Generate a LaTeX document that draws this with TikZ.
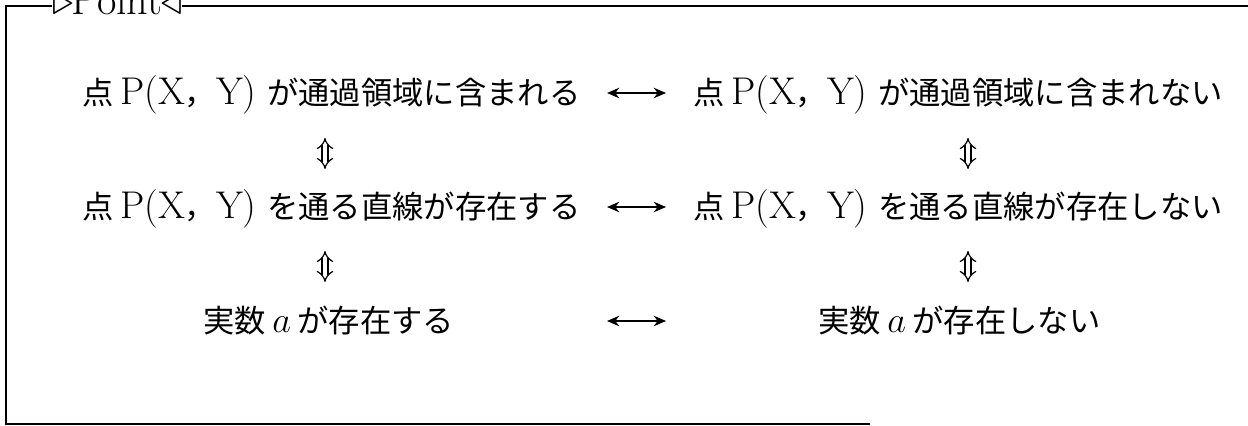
\documentclass[tikz,border=0pt]{standalone}
\usepackage{fontspec}
\newfontfamily\cjk[Scale=0.81]{Noto Sans CJK JP}
\usetikzlibrary{arrows.meta}
\newcommand{\J}[1]{{\cjk #1}}
\newcommand{\PXY}{\J{点}\,P(X\J{，}Y)\;}
\tikzset{
  txt/.style={anchor=base west, inner sep=0pt, font=\fontsize{22}{26}\selectfont},
  frameline/.style={line width=0.9pt},
  harrow/.style={line width=0.8pt, {Stealth[length=7pt,width=6pt]}-{Stealth[length=7pt,width=6pt]}},
  varrow/.style={double, double distance=2.6pt, line width=0.7pt, {Implies}-{Implies}}
}
\begin{document}
\begin{tikzpicture}[x=0.02cm,y=-0.02cm]
\useasboundingbox (0,0) rectangle (1248,426);
% title
\node[anchor=base, inner sep=0pt] (title) at (117,14) {\fontsize{24}{26}\selectfont$\triangleright$\kern-1pt Point\kern-1pt$\triangleleft$};
% frame
\draw[frameline] (title.west |- 0,6) -- (6,6) -- (6,424) -- (870,424);
\draw[frameline] (title.east |- 0,6) -- (1248,6);
% texts
\node[txt] (l1) at (82,104) {\PXY\J{が通過領域に含まれる}};
\node[txt] (r1) at (693,104) {\PXY\J{が通過領域に含まれない}};
\node[txt] (l2) at (82,218) {\PXY\J{を通る直線が存在する}};
\node[txt] (r2) at (693,218) {\PXY\J{を通る直線が存在しない}};
\node[txt] (l3) at (203,332) {\J{実数}\,$a$\,\J{が存在する}};
\node[txt] (r3) at (818,332) {\J{実数}\,$a$\,\J{が存在しない}};
% arrow end points
\coordinate (h1a) at (607,93); \coordinate (h1b) at (666,93);
\coordinate (h2a) at (607,207); \coordinate (h2b) at (666,207);
\coordinate (h3a) at (607,321); \coordinate (h3b) at (666,321);
\coordinate (v1a) at (325,138); \coordinate (v1b) at (325,169);
\coordinate (v2a) at (325,251); \coordinate (v2b) at (325,282);
\coordinate (v3a) at (968,138); \coordinate (v3b) at (968,169);
\coordinate (v4a) at (968,251); \coordinate (v4b) at (968,282);
\draw[harrow] (h1a) -- (h1b);
\draw[harrow] (h2a) -- (h2b);
\draw[harrow] (h3a) -- (h3b);
\draw[varrow] (v1a) -- (v1b);
\draw[varrow] (v2a) -- (v2b);
\draw[varrow] (v3a) -- (v3b);
\draw[varrow] (v4a) -- (v4b);
\end{tikzpicture}
\end{document}
